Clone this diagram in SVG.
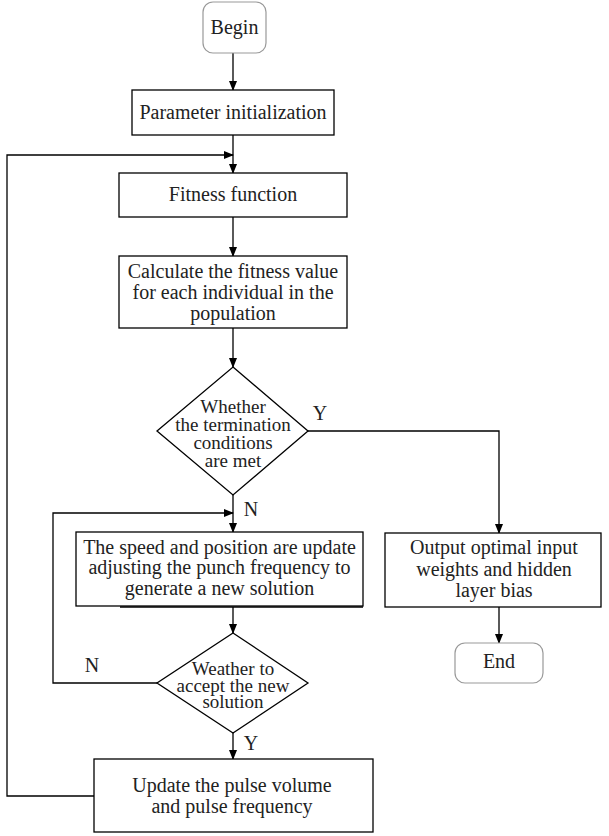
<svg xmlns="http://www.w3.org/2000/svg" width="609" height="836" viewBox="0 0 609 836">
<defs>
<marker id="ah" markerWidth="10" markerHeight="10" refX="9" refY="5" orient="auto" markerUnits="userSpaceOnUse">
<path d="M0,1 L10,5 L0,9 Z" fill="#000"/>
</marker>
</defs>
<style>
.box{fill:#fff;stroke:#000;stroke-width:1.3}
.term{fill:#fff;stroke:#999;stroke-width:1.2}
.ln{fill:none;stroke:#000;stroke-width:1.3}
text{font-family:"Liberation Serif","Times New Roman",serif;font-size:20px;fill:#222;text-anchor:middle}
.d1{font-size:19px}
.d2{font-size:19px}
</style>
<rect width="609" height="836" fill="#fff"/>
<g id="connectors">
<line class="ln" x1="233" y1="53" x2="233" y2="90" marker-end="url(#ah)"/>
<line class="ln" x1="233" y1="135" x2="233" y2="173" marker-end="url(#ah)"/>
<polyline class="ln" points="94,796 7,796 7,155 233,155" marker-end="url(#ah)"/>
<line class="ln" x1="233" y1="217" x2="233" y2="256" marker-end="url(#ah)"/>
<line class="ln" x1="233" y1="328" x2="233" y2="367" marker-end="url(#ah)"/>
<polyline class="ln" points="308,431 499,431 499,533" marker-end="url(#ah)"/>
<line class="ln" x1="233" y1="495" x2="233" y2="532" marker-end="url(#ah)"/>
<polyline class="ln" points="157,683 53,683 53,513 233,513" marker-end="url(#ah)"/>
<line class="ln" x1="233" y1="607" x2="233" y2="633" marker-end="url(#ah)"/>
<line class="ln" x1="233" y1="733" x2="233" y2="759" marker-end="url(#ah)"/>
<line class="ln" x1="499" y1="607" x2="499" y2="643" marker-end="url(#ah)"/>
<text x="320" y="420">Y</text>
<text x="251" y="516">N</text>
<text x="92" y="672">N</text>
<text x="251" y="750">Y</text>
</g>
<g id="begin">
<rect class="term" x="203" y="2" width="63" height="51" rx="10"/>
<text x="234.5" y="34">Begin</text>
</g>
<g id="init">
<rect class="box" x="132" y="90" width="202" height="45"/>
<text x="233" y="119">Parameter initialization</text>
</g>
<g id="fitness">
<rect class="box" x="119" y="173" width="228" height="44"/>
<text x="233" y="201">Fitness function</text>
</g>
<g id="calculate">
<rect class="box" x="119" y="256" width="228" height="72"/>
<text x="233" y="278">Calculate the fitness value</text>
<text x="233" y="299">for each individual in the</text>
<text x="233" y="320">population</text>
</g>
<g id="termination">
<polygon class="box" points="233,367 308,431 233,495 157,431"/>
<text class="d1" x="233" y="413">Whether</text>
<text class="d1" x="233" y="431">the termination</text>
<text class="d1" x="233" y="449">conditions</text>
<text class="d1" x="233" y="467">are met</text>
</g>
<g id="update-speed">
<rect class="box" x="76" y="532" width="287" height="74"/>
<line x1="120" y1="607" x2="363" y2="607" stroke="#000" stroke-width="1.5"/>
<text x="219.5" y="554">The speed and position are update</text>
<text x="219.5" y="574">adjusting the punch frequency to</text>
<text x="219.5" y="595">generate a new solution</text>
</g>
<g id="accept">
<polygon class="box" points="233,633 308,683 233,733 157,683"/>
<text class="d2" x="233" y="675">Weather to</text>
<text class="d2" x="233" y="692">accept the new</text>
<text class="d2" x="233" y="708">solution</text>
</g>
<g id="output">
<rect class="box" x="385" y="533" width="216" height="74"/>
<text x="494" y="554">Output optimal input</text>
<text x="494" y="576">weights and hidden</text>
<text x="494" y="597">layer bias</text>
</g>
<g id="end">
<rect class="term" x="455" y="643" width="88" height="40" rx="10"/>
<text x="499" y="668">End</text>
</g>
<g id="update-pulse">
<rect class="box" x="94" y="759" width="279" height="73"/>
<text x="232" y="792">Update the pulse volume</text>
<text x="232" y="813">and pulse frequency</text>
</g>
</svg>
